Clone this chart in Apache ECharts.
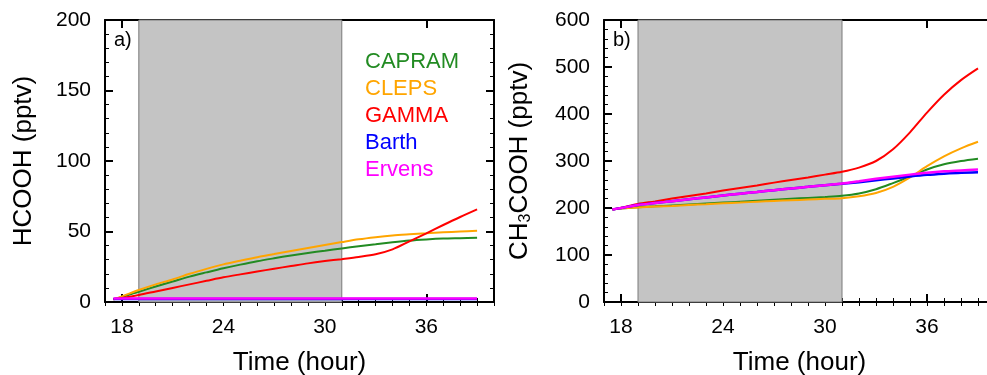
<!DOCTYPE html>
<html>
<head>
<meta charset="utf-8">
<script src="https://cdn.jsdelivr.net/npm/echarts@6/dist/echarts.min.js"></script>
<style>
html, body { margin: 0; padding: 0; background: #fff; }
#chart { width: 987px; height: 375px; }
</style>
</head>
<body>
<div id="chart"></div>
<script>
// time (hour) of each sample
var hours = [17.5, 18, 19, 20, 21, 22, 23, 24, 25, 26, 27, 28, 29, 30, 31, 32, 33, 34, 35, 36, 37, 38, 39];
var models = ['CAPRAM', 'CLEPS', 'GAMMA', 'Barth', 'Ervens'];
var colors = ['#228b22', '#ffa500', '#ff0000', '#0000ff', '#ff00ff'];

// a) HCOOH (pptv)
var hcooh_capram = [2, 3.6, 7.3, 11, 14.5, 18, 21, 23.9, 26.5, 28.9, 31, 33, 34.8, 36.4, 38, 39.6, 41, 42.4, 43.6, 44.4, 45, 45.3, 45.6];
var hcooh_cleps = [2, 4, 8.5, 12.5, 16, 20, 23.5, 26.7, 29.3, 31.8, 34, 36.2, 38.3, 40.4, 42.5, 44.5, 46, 47.2, 48, 48.7, 49.4, 50, 50.6];
var hcooh_gamma = [2, 2.8, 5, 7.5, 10, 12.5, 15, 17.5, 19.6, 21.6, 23.6, 25.5, 27.4, 29, 30.4, 31.9, 33.8, 37.3, 43, 48.7, 54.6, 60.3, 65.7];
var hcooh_barth = [2.2, 2.2, 2.2, 2.2, 2.2, 2.2, 2.2, 2.2, 2.2, 2.2, 2.2, 2.2, 2.2, 2.2, 2.2, 2.2, 2.2, 2.2, 2.2, 2.2, 2.2, 2.2, 2.2];
var hcooh_ervens = [2.5, 2.5, 2.5, 2.5, 2.5, 2.5, 2.5, 2.5, 2.5, 2.5, 2.5, 2.5, 2.5, 2.5, 2.5, 2.5, 2.5, 2.5, 2.5, 2.5, 2.5, 2.5, 2.5];

// b) CH3COOH (pptv)
var ch3_capram = [197, 199, 201.5, 203.5, 205.5, 207.5, 209.5, 211.5, 213.5, 215.5, 217.5, 219.5, 221.5, 223.5, 226, 231, 240, 253, 267, 282, 293, 300, 305];
var ch3_cleps = [197, 199, 201, 203, 204.5, 206.5, 208, 210, 211.5, 213.5, 215, 216.5, 218, 219.5, 221, 225, 232, 245, 265, 289, 310, 327, 341];
var ch3_gamma = [197, 200.5, 208.5, 214, 220, 225.5, 231, 237, 242.5, 248, 254, 259.5, 265, 271, 277, 286, 300, 325, 361, 403, 441, 472, 497];
var ch3_barth = [197, 200, 206.5, 210.5, 214.5, 218.5, 222.5, 226.5, 230.5, 234, 238, 241.5, 245, 248.5, 251.5, 255, 259, 263, 267, 270.5, 273, 275, 276];
var ch3_ervens = [197, 200, 206.5, 210.5, 214.5, 218.5, 222.5, 226.5, 230.5, 234, 238, 241.5, 245, 248.5, 252, 257, 262, 266.5, 271, 275, 278, 280, 282];

var majorHours = [18, 24, 30, 36];
var night = [19, 31];   // shaded period

var font = 'Liberation Sans';
var myChart = echarts.init(document.getElementById('chart'));

function pairs(vals) {
    return hours.map(function (h, i) { return [h, vals[i]]; });
}

// two x axes per side: major ticks with labels, and hourly minor ticks
function xAxes(gi) {
    var base = { gridIndex: gi, type: 'value', min: 17, max: 40, splitLine: { show: false } };
    return [
        Object.assign({}, base, {
            position: 'bottom',
            name: 'Time (hour)', nameLocation: 'middle', nameGap: 48,
            nameTextStyle: { fontFamily: font, fontSize: 26, color: '#000' },
            axisLine: { onZero: false, lineStyle: { color: '#000', width: 2 } },
            axisTick: { inside: true, length: 8, customValues: majorHours, lineStyle: { color: '#000', width: 2 } },
            axisLabel: { customValues: majorHours, fontFamily: font, fontSize: 21, color: '#000', margin: 15 }
        }),
        Object.assign({}, base, {
            position: 'bottom', interval: 1,
            axisLine: { show: false },
            axisTick: { inside: true, length: 4, lineStyle: { color: '#000', width: 1 } },
            axisLabel: { show: false }
        }),
        Object.assign({}, base, {
            position: 'top',
            axisLine: { onZero: false, lineStyle: { color: '#000', width: 2 } },
            axisTick: { inside: true, length: 8, customValues: majorHours, lineStyle: { color: '#000', width: 2 } },
            axisLabel: { show: false }
        }),
        Object.assign({}, base, {
            position: 'top', interval: 1,
            axisLine: { show: false },
            axisTick: { inside: true, length: 4, lineStyle: { color: '#000', width: 1 } },
            axisLabel: { show: false }
        })
    ];
}

function yAxes(gi, max, step, name, nameGap) {
    var base = {
        gridIndex: gi, type: 'value', min: 0, max: max, interval: step,
        splitLine: { show: false },
        axisLine: { onZero: false, lineStyle: { color: '#000', width: 2 } },
        axisTick: { inside: true, length: 8, lineStyle: { color: '#000', width: 2 } },
        minorTick: { show: true, splitNumber: 5, length: 4, lineStyle: { color: '#000', width: 1 } }
    };
    return [
        Object.assign({}, base, {
            position: 'left',
            name: name, nameLocation: 'middle', nameGap: nameGap,
            nameTextStyle: {
                fontFamily: font, fontSize: 26, color: '#000',
                rich: {
                    a: { fontFamily: font, fontSize: 26, color: '#000' },
                    s: { fontFamily: font, fontSize: 16, color: '#000', padding: [12, 0, 0, 0] }
                }
            },
            axisLabel: { fontFamily: font, fontSize: 21, color: '#000', margin: 14 }
        }),
        Object.assign({}, base, {
            position: 'right',
            axisLabel: { show: false }
        })
    ];
}

function makeSeries(gi, data) {
    return data.map(function (vals, k) {
        var s = {
            name: models[k], type: 'line', xAxisIndex: gi * 4, yAxisIndex: gi * 2,
            data: pairs(vals), smooth: 0.3, symbol: 'none',
            lineStyle: { color: colors[k], width: k >= 3 ? 2.5 : 2 },
            itemStyle: { color: colors[k] },
            z: 3 + k
        };
        if (k === 0) {
            s.markArea = {
                silent: true,
                itemStyle: { color: '#c4c4c4', borderColor: '#7a7a7a', borderWidth: 1 },
                data: [[{ xAxis: night[0] }, { xAxis: night[1] }]]
            };
        }
        return s;
    });
}

var legendText = models.map(function (m, k) {
    return {
        type: 'text', left: 365, top: 51 + k * 27,
        style: { text: m, fill: colors[k], font: '22px "Liberation Sans"' }
    };
});

var option = {
    animation: false,
    grid: [
        { left: 105, right: 493, top: 20, bottom: 73, outerBoundsMode: 'none', containLabel: false },
        { left: 604, right: -8, top: 20, bottom: 73, outerBoundsMode: 'none', containLabel: false }
    ],
    xAxis: xAxes(0).concat(xAxes(1)),
    yAxis: yAxes(0, 200, 50, 'HCOOH (pptv)', 68)
        .concat(yAxes(1, 600, 100, '{a|CH}{s|3}{a|COOH (pptv)}', 70)),
    series: makeSeries(0, [hcooh_capram, hcooh_cleps, hcooh_gamma, hcooh_barth, hcooh_ervens])
        .concat(makeSeries(1, [ch3_capram, ch3_cleps, ch3_gamma, ch3_barth, ch3_ervens])),
    graphic: legendText.concat([
        { type: 'text', left: 114, top: 30, style: { text: 'a)', fill: '#000', font: '20px "Liberation Sans"' } },
        { type: 'text', left: 613, top: 30, style: { text: 'b)', fill: '#000', font: '20px "Liberation Sans"' } }
    ])
};
myChart.setOption(option);
</script>
</body>
</html>
